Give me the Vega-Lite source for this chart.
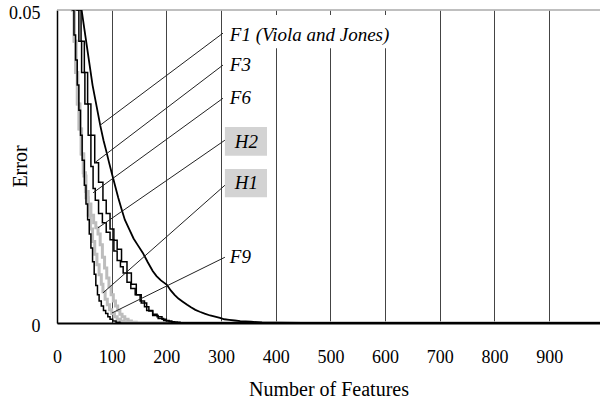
{
  "$schema": "https://vega.github.io/schema/vega-lite/v6.json",
  "width": 543,
  "height": 313,
  "autosize": "none",
  "padding": {"left": 57, "top": 10, "right": 0, "bottom": 78},
  "background": "white",
  "config": {"view": {"stroke": null}, "font": "Liberation Serif"},
  "datasets": {
    "curves": [
      {"series": "F1", "x": 40, "y": 0.056}, {"series": "F1", "x": 45, "y": 0.05}, {"series": "F1", "x": 50, "y": 0.047}, {"series": "F1", "x": 55, "y": 0.044}, {"series": "F1", "x": 60, "y": 0.041}, {"series": "F1", "x": 65, "y": 0.038}, {"series": "F1", "x": 72, "y": 0.0348}, {"series": "F1", "x": 79, "y": 0.0316}, {"series": "F1", "x": 85, "y": 0.0292}, {"series": "F1", "x": 90, "y": 0.0275}, {"series": "F1", "x": 95, "y": 0.0257}, {"series": "F1", "x": 100, "y": 0.024}, {"series": "F1", "x": 106, "y": 0.022}, {"series": "F1", "x": 112, "y": 0.02}, {"series": "F1", "x": 118, "y": 0.0182}, {"series": "F1", "x": 124, "y": 0.0165}, {"series": "F1", "x": 132, "y": 0.015}, {"series": "F1", "x": 140, "y": 0.0135}, {"series": "F1", "x": 148, "y": 0.0124}, {"series": "F1", "x": 157, "y": 0.0112}, {"series": "F1", "x": 166, "y": 0.0097}, {"series": "F1", "x": 175, "y": 0.0083}, {"series": "F1", "x": 182, "y": 0.0075}, {"series": "F1", "x": 190, "y": 0.0068}, {"series": "F1", "x": 201, "y": 0.0061}, {"series": "F1", "x": 208, "y": 0.0052}, {"series": "F1", "x": 215, "y": 0.0045}, {"series": "F1", "x": 222, "y": 0.0039}, {"series": "F1", "x": 230, "y": 0.0034}, {"series": "F1", "x": 238, "y": 0.0029}, {"series": "F1", "x": 245, "y": 0.0025}, {"series": "F1", "x": 253, "y": 0.0021}, {"series": "F1", "x": 261, "y": 0.0018}, {"series": "F1", "x": 270, "y": 0.0015}, {"series": "F1", "x": 280, "y": 0.0012}, {"series": "F1", "x": 289, "y": 0.001}, {"series": "F1", "x": 298, "y": 0.0008}, {"series": "F1", "x": 306, "y": 0.0006}, {"series": "F1", "x": 315, "y": 0.0005}, {"series": "F1", "x": 325, "y": 0.0004}, {"series": "F1", "x": 335, "y": 0.0003}, {"series": "F1", "x": 355, "y": 0.0002}, {"series": "F1", "x": 375, "y": 0.0001}, {"series": "F1", "x": 400, "y": 0.00005}, {"series": "F1", "x": 450, "y": 0}, {"series": "F1", "x": 1000, "y": 0},

      {"series": "F3", "x": 33, "y": 0.056}, {"series": "F3", "x": 38, "y": 0.05}, {"series": "F3", "x": 44, "y": 0.045}, {"series": "F3", "x": 50, "y": 0.04}, {"series": "F3", "x": 56, "y": 0.035}, {"series": "F3", "x": 62, "y": 0.03}, {"series": "F3", "x": 69, "y": 0.0256}, {"series": "F3", "x": 76, "y": 0.0225}, {"series": "F3", "x": 84, "y": 0.0196}, {"series": "F3", "x": 90, "y": 0.0175}, {"series": "F3", "x": 97, "y": 0.015}, {"series": "F3", "x": 104, "y": 0.0132}, {"series": "F3", "x": 110, "y": 0.0118}, {"series": "F3", "x": 118, "y": 0.0098}, {"series": "F3", "x": 128, "y": 0.008}, {"series": "F3", "x": 136, "y": 0.0062}, {"series": "F3", "x": 145, "y": 0.0045}, {"series": "F3", "x": 154, "y": 0.0032}, {"series": "F3", "x": 164, "y": 0.002}, {"series": "F3", "x": 175, "y": 0.0012}, {"series": "F3", "x": 185, "y": 0.0007}, {"series": "F3", "x": 195, "y": 0.0004}, {"series": "F3", "x": 205, "y": 0.0002}, {"series": "F3", "x": 215, "y": 0.0001}, {"series": "F3", "x": 225, "y": 0}, {"series": "F3", "x": 1000, "y": 0},

      {"series": "F6", "x": 30, "y": 0.056}, {"series": "F6", "x": 35, "y": 0.05}, {"series": "F6", "x": 40, "y": 0.045}, {"series": "F6", "x": 45, "y": 0.04}, {"series": "F6", "x": 51, "y": 0.035}, {"series": "F6", "x": 57, "y": 0.03}, {"series": "F6", "x": 62, "y": 0.025}, {"series": "F6", "x": 66, "y": 0.0215}, {"series": "F6", "x": 70, "y": 0.0196}, {"series": "F6", "x": 76, "y": 0.0175}, {"series": "F6", "x": 83, "y": 0.016}, {"series": "F6", "x": 90, "y": 0.0145}, {"series": "F6", "x": 97, "y": 0.0133}, {"series": "F6", "x": 104, "y": 0.0115}, {"series": "F6", "x": 110, "y": 0.01}, {"series": "F6", "x": 116, "y": 0.009}, {"series": "F6", "x": 121, "y": 0.008}, {"series": "F6", "x": 128, "y": 0.0065}, {"series": "F6", "x": 135, "y": 0.0055}, {"series": "F6", "x": 143, "y": 0.0045}, {"series": "F6", "x": 152, "y": 0.0035}, {"series": "F6", "x": 160, "y": 0.0026}, {"series": "F6", "x": 168, "y": 0.0019}, {"series": "F6", "x": 175, "y": 0.0014}, {"series": "F6", "x": 183, "y": 0.001}, {"series": "F6", "x": 192, "y": 0.0006}, {"series": "F6", "x": 200, "y": 0.0003}, {"series": "F6", "x": 210, "y": 0.0001}, {"series": "F6", "x": 220, "y": 0}, {"series": "F6", "x": 1000, "y": 0},

      {"series": "F9", "x": 25, "y": 0.056}, {"series": "F9", "x": 28, "y": 0.05}, {"series": "F9", "x": 31, "y": 0.046}, {"series": "F9", "x": 34, "y": 0.042}, {"series": "F9", "x": 37, "y": 0.038}, {"series": "F9", "x": 40, "y": 0.034}, {"series": "F9", "x": 43, "y": 0.03}, {"series": "F9", "x": 46, "y": 0.026}, {"series": "F9", "x": 50, "y": 0.022}, {"series": "F9", "x": 53, "y": 0.019}, {"series": "F9", "x": 56, "y": 0.0165}, {"series": "F9", "x": 59, "y": 0.0142}, {"series": "F9", "x": 62, "y": 0.012}, {"series": "F9", "x": 65, "y": 0.0098}, {"series": "F9", "x": 68, "y": 0.0078}, {"series": "F9", "x": 71, "y": 0.006}, {"series": "F9", "x": 74, "y": 0.0045}, {"series": "F9", "x": 77, "y": 0.0035}, {"series": "F9", "x": 81, "y": 0.0027}, {"series": "F9", "x": 85, "y": 0.002}, {"series": "F9", "x": 89, "y": 0.0015}, {"series": "F9", "x": 93, "y": 0.001}, {"series": "F9", "x": 97, "y": 0.0006}, {"series": "F9", "x": 102, "y": 0.0003}, {"series": "F9", "x": 108, "y": 0.0001}, {"series": "F9", "x": 115, "y": 0}, {"series": "F9", "x": 1000, "y": 0},

      {"series": "H2", "x": 26, "y": 0.056}, {"series": "H2", "x": 28, "y": 0.05}, {"series": "H2", "x": 31, "y": 0.045}, {"series": "H2", "x": 34, "y": 0.04}, {"series": "H2", "x": 37, "y": 0.035}, {"series": "H2", "x": 40, "y": 0.031}, {"series": "H2", "x": 44, "y": 0.027}, {"series": "H2", "x": 48, "y": 0.024}, {"series": "H2", "x": 52, "y": 0.021}, {"series": "H2", "x": 57, "y": 0.019}, {"series": "H2", "x": 62, "y": 0.0172}, {"series": "H2", "x": 67, "y": 0.016}, {"series": "H2", "x": 71, "y": 0.0152}, {"series": "H2", "x": 75, "y": 0.0142}, {"series": "H2", "x": 79, "y": 0.0125}, {"series": "H2", "x": 83, "y": 0.0105}, {"series": "H2", "x": 87, "y": 0.0088}, {"series": "H2", "x": 91, "y": 0.0072}, {"series": "H2", "x": 95, "y": 0.0058}, {"series": "H2", "x": 99, "y": 0.0045}, {"series": "H2", "x": 103, "y": 0.0035}, {"series": "H2", "x": 107, "y": 0.0027}, {"series": "H2", "x": 111, "y": 0.002}, {"series": "H2", "x": 115, "y": 0.0014}, {"series": "H2", "x": 119, "y": 0.001}, {"series": "H2", "x": 124, "y": 0.0006}, {"series": "H2", "x": 130, "y": 0.0003}, {"series": "H2", "x": 136, "y": 0.0001}, {"series": "H2", "x": 145, "y": 0}, {"series": "H2", "x": 1000, "y": 0},

      {"series": "H1", "x": 27, "y": 0.056}, {"series": "H1", "x": 29, "y": 0.05}, {"series": "H1", "x": 32, "y": 0.045}, {"series": "H1", "x": 35, "y": 0.04}, {"series": "H1", "x": 38, "y": 0.035}, {"series": "H1", "x": 42, "y": 0.031}, {"series": "H1", "x": 45, "y": 0.027}, {"series": "H1", "x": 49, "y": 0.0235}, {"series": "H1", "x": 53, "y": 0.02}, {"series": "H1", "x": 57, "y": 0.0172}, {"series": "H1", "x": 61, "y": 0.015}, {"series": "H1", "x": 65, "y": 0.013}, {"series": "H1", "x": 69, "y": 0.011}, {"series": "H1", "x": 73, "y": 0.0093}, {"series": "H1", "x": 77, "y": 0.0077}, {"series": "H1", "x": 81, "y": 0.0062}, {"series": "H1", "x": 84, "y": 0.005}, {"series": "H1", "x": 88, "y": 0.0038}, {"series": "H1", "x": 92, "y": 0.0029}, {"series": "H1", "x": 96, "y": 0.0021}, {"series": "H1", "x": 100, "y": 0.0015}, {"series": "H1", "x": 105, "y": 0.001}, {"series": "H1", "x": 110, "y": 0.0006}, {"series": "H1", "x": 116, "y": 0.0003}, {"series": "H1", "x": 122, "y": 0.0001}, {"series": "H1", "x": 130, "y": 0}, {"series": "H1", "x": 1000, "y": 0}
    ],
    "labels": [
      {"label": "F1 (Viola and Jones)", "x": 316, "y": 0.046},
      {"label": "F3", "x": 316, "y": 0.0412},
      {"label": "F6", "x": 316, "y": 0.0359},
      {"label": "H2", "x": 325, "y": 0.0289},
      {"label": "H1", "x": 325, "y": 0.0224},
      {"label": "F9", "x": 316, "y": 0.0105}
    ],
    "pointers": [
      {"label": "F1", "x": 303.5, "y": 0.0463, "x2": 79, "y2": 0.0316},
      {"label": "F3", "x": 303.5, "y": 0.0412, "x2": 69, "y2": 0.0256},
      {"label": "F6", "x": 303.5, "y": 0.0359, "x2": 66, "y2": 0.0208},
      {"label": "H2", "x": 307, "y": 0.0292, "x2": 75, "y2": 0.0152},
      {"label": "H1", "x": 307, "y": 0.022, "x2": 84, "y2": 0.0048},
      {"label": "F9", "x": 307, "y": 0.0105, "x2": 100.5, "y2": 0.0016}
    ],
    "grayboxes": [
      {"label": "H2", "x": 307, "x2": 384, "y": 0.0267, "y2": 0.0313},
      {"label": "H1", "x": 307, "x2": 384, "y": 0.0201, "y2": 0.0246}
    ],
    "whitebox": [
      {"x": 312, "x2": 622, "y": 0.0439, "y2": 0.0492}
    ]
  },
  "layer": [
    {
      "data": {"name": "whitebox"},
      "mark": {"type": "rect", "color": "white"},
      "encoding": {
        "x": {"field": "x", "type": "quantitative", "scale": {"domain": [0, 993], "nice": false, "zero": false},
          "axis": {
            "values": [0, 100, 200, 300, 400, 500, 600, 700, 800, 900],
            "grid": true, "gridColor": "#444", "gridWidth": 1, "gridOpacity": 1,
            "ticks": false, "labelFlush": false,
            "domainColor": "black", "domainWidth": 2,
            "labelFont": "Liberation Serif", "labelFontSize": 18, "labelColor": "black",
            "labelBaseline": "alphabetic", "labelPadding": 39,
            "title": "Number of Features", "titleFont": "Liberation Serif", "titleFontSize": 20,
            "titleFontWeight": "normal", "titleColor": "black", "titleBaseline": "alphabetic", "titleY": 72
          }},
        "x2": {"field": "x2"},
        "y": {"field": "y", "type": "quantitative", "scale": {"domain": [0, 0.05], "nice": false},
          "axis": {
            "values": [0, 0.05], "format": "~g", "grid": false, "ticks": false,
            "domainColor": "black", "domainWidth": 1.5,
            "labelFont": "Liberation Serif", "labelFontSize": 18, "labelColor": "black",
            "labelPadding": 17, "labelOffset": 3,
            "title": "Error", "titleFont": "Liberation Serif", "titleFontSize": 20,
            "titleFontWeight": "normal", "titleColor": "black", "titleX": -37, "titleY": 156,
            "titleAngle": -90, "titleBaseline": "middle", "titleAlign": "center"
          }},
        "y2": {"field": "y2"}
      }
    },
    {
      "data": {"values": [{"y": 0.05}]},
      "mark": {"type": "rule", "color": "#aaaaaa", "strokeWidth": 1.5},
      "encoding": {"y": {"field": "y", "type": "quantitative"}}
    },
    {
      "data": {"name": "curves"},
      "transform": [{"filter": "datum.series == 'H1' || datum.series == 'H2'"}],
      "mark": {"type": "line", "interpolate": "step-after", "clip": true, "color": "#bdbdbd", "strokeWidth": 3},
      "encoding": {
        "x": {"field": "x", "type": "quantitative"},
        "y": {"field": "y", "type": "quantitative"},
        "detail": {"field": "series"}
      }
    },
    {
      "data": {"name": "curves"},
      "transform": [{"filter": "datum.series == 'F3' || datum.series == 'F6' || datum.series == 'F9'"}],
      "mark": {"type": "line", "interpolate": "step-after", "clip": true, "color": "black", "strokeWidth": 1.5},
      "encoding": {
        "x": {"field": "x", "type": "quantitative"},
        "y": {"field": "y", "type": "quantitative"},
        "detail": {"field": "series"}
      }
    },
    {
      "data": {"name": "curves"},
      "transform": [{"filter": "datum.series == 'F1'"}],
      "mark": {"type": "line", "interpolate": "linear", "clip": true, "color": "black", "strokeWidth": 1.8},
      "encoding": {
        "x": {"field": "x", "type": "quantitative"},
        "y": {"field": "y", "type": "quantitative"}
      }
    },
    {
      "data": {"name": "grayboxes"},
      "mark": {"type": "rect", "color": "#d3d3d3"},
      "encoding": {
        "x": {"field": "x", "type": "quantitative"},
        "x2": {"field": "x2"},
        "y": {"field": "y", "type": "quantitative"},
        "y2": {"field": "y2"}
      }
    },
    {
      "data": {"name": "pointers"},
      "mark": {"type": "rule", "color": "#222", "strokeWidth": 1},
      "encoding": {
        "x": {"field": "x", "type": "quantitative"},
        "y": {"field": "y", "type": "quantitative"},
        "x2": {"field": "x2"},
        "y2": {"field": "y2"}
      }
    },
    {
      "data": {"name": "labels"},
      "mark": {"type": "text", "align": "left", "baseline": "middle", "font": "Liberation Serif", "fontStyle": "italic", "fontSize": 19, "color": "black"},
      "encoding": {
        "x": {"field": "x", "type": "quantitative"},
        "y": {"field": "y", "type": "quantitative"},
        "text": {"field": "label"}
      }
    }
  ]
}
